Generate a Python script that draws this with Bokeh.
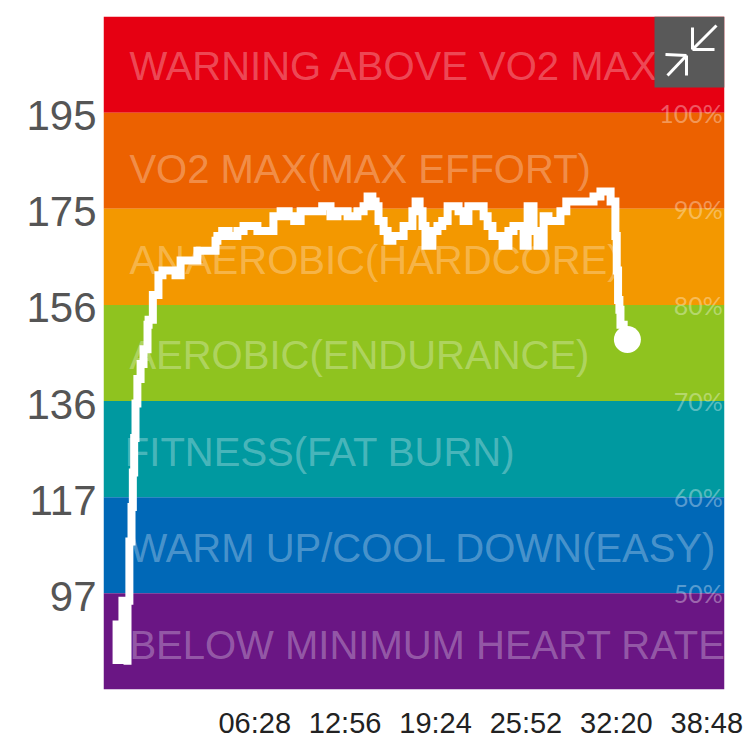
from bokeh.plotting import figure
from bokeh.models import Range1d, LinearAxis, FixedTicker
from bokeh.core.properties import value
from bokeh.embed import file_html
from bokeh.resources import INLINE

zone_edges = [214.5, 195, 175.5, 156, 136.5, 117, 97.5, 78]
zone_colors = ["#E60012", "#EC6100", "#F39800", "#8FC31F", "#0099A0", "#0068B7", "#6A1684"]
zone_names = ["WARNING ABOVE VO2 MAX", "VO2 MAX(MAX EFFORT)", "ANAEROBIC(HARDCORE)", "AEROBIC(ENDURANCE)",
              "FITNESS(FAT BURN)", "WARM UP/COOL DOWN(EASY)", "BELOW MINIMUM HEART RATE"]
zone_label_hr = [204.4, 183.6, 165.2, 145.8, 126.2, 106.8, 87.0]
zone_label_t = [97, 97, 97, 97, 80, 97, 97]
pct_labels = ["100%", "90%", "80%", "70%", "60%", "50%"]
pct_hr = [195, 175.5, 156, 136.5, 117, 97.5]
pct_t = 2322

y_ticks = [195, 175.5, 156, 136.5, 117, 97.5]
y_tick_labels = ["195", "175", "156", "136", "117", "97"]
x_ticks = [388, 776, 1164, 1552, 1940, 2328]
x_tick_labels = ["06:28", "12:56", "19:24", "25:52", "32:20", "38:48"]

t = [49, 49, 71, 71, 90, 90, 97, 105, 110, 115, 120, 127, 139, 150, 165, 169, 185, 206, 221, 235, 251, 270, 289, 307, 352, 375, 420, 427,
     445, 469, 502, 525, 550, 577, 610, 637, 664, 694, 715, 739, 769, 787, 820, 851, 877, 915, 952, 975, 990, 1008, 1020, 1031, 1050, 1065, 1083, 1125, 1158,
     1170, 1185, 1196, 1207, 1233, 1252, 1270, 1290, 1331, 1350, 1368, 1425, 1440, 1458, 1496, 1518, 1537, 1575, 1590, 1612, 1627, 1650,
     1668, 1713, 1735, 1751, 1800, 1837, 1863, 1901, 1919, 1924, 1929, 1934, 1938, 1950, 1964]
hr = [84, 92, 84, 96, 96, 83, 96, 108, 115, 122, 129, 136, 141, 144, 147, 152, 153, 158, 162, 163, 163, 163, 162, 165, 165, 167, 167, 169,
      170, 171, 170, 171, 172, 172, 171, 171, 174, 175, 174, 173, 175, 175, 175, 176, 174, 175, 174, 175, 176, 178, 177, 176, 173, 171, 169, 170, 172,
      175, 177, 175, 172, 168, 171, 172, 173, 176, 175, 173, 176, 174, 172, 170, 168, 171, 172, 168, 176, 171, 168,
      174, 173, 175, 177, 177, 177, 178, 179, 177, 170, 163, 157, 155, 152, 149]

FRAME_W = 621.0
FRAME_H = 673.0

def tx(px):
    return (px - 103) / FRAME_W * 2328

def ty(px):
    return 214.5 - (px - 16) / FRAME_H * 136.5

p = figure(width=744, height=745, output_backend="svg", toolbar_location=None,
           x_range=Range1d(0, 2328), y_range=Range1d(78, 214.5),
           min_border_left=103, min_border_right=20, min_border_top=16, min_border_bottom=56,
           outline_line_color=None, background_fill_color="white", x_axis_location=None, y_axis_location=None)
p.grid.visible = False

p.quad(left=0, right=2328, top=zone_edges[:-1], bottom=zone_edges[1:], fill_color=zone_colors, line_color=None)

p.text(x=zone_label_t, y=zone_label_hr, text=zone_names, text_font=value("Liberation Sans"), text_font_size="40px",
       text_color="white", text_alpha=0.3, text_baseline="middle", text_align="left")
p.text(x=[pct_t] * len(pct_labels), y=pct_hr, text=pct_labels, text_font=value("Lato"), text_font_size="25px",
       text_color="white", text_alpha=0.35, text_baseline="middle", text_align="right")

p.step(t, hr, mode="before", line_color="white", line_width=8, line_join="miter")
p.scatter(t[-1:], hr[-1:], size=27, fill_color="white", line_color=None)

p.extra_y_ranges["labels"] = Range1d(78.6, 215.1)
yaxis = LinearAxis(y_range_name="labels", ticker=FixedTicker(ticks=y_ticks),
                   major_label_overrides={a: b for a, b in zip(y_ticks, y_tick_labels)},
                   axis_line_color=None, major_tick_line_color=None,
                   minor_tick_line_color=None, major_label_text_font="Liberation Sans",
                   major_label_text_font_size="42px", major_label_text_color="#555555", major_label_standoff=1)
p.add_layout(yaxis, "left")

# tick labels sit on their own scale: they do not line up with the data scale in the original
p.extra_x_ranges["labels"] = Range1d(-261, 2404)
xaxis = LinearAxis(x_range_name="labels", ticker=FixedTicker(ticks=x_ticks),
                   major_label_overrides={a: b for a, b in zip(x_ticks, x_tick_labels)},
                   axis_line_color=None, major_tick_line_color=None, minor_tick_line_color=None,
                   major_label_text_font="Liberation Sans", major_label_text_font_size="29px",
                   major_label_text_color="#222222", major_label_standoff=11)
p.add_layout(xaxis, "below")

# collapse button in the top right corner
p.quad(left=[tx(654)], right=[tx(724)], top=[ty(16)], bottom=[ty(87)], fill_color="#595959", line_color=None)
icon_segments = [(716, 25, 692, 49), (692, 49, 692, 27), (692, 49, 714, 49),
                 (667, 75, 686, 55), (686, 55, 665, 54), (686, 55, 686, 75)]
p.segment(x0=[tx(s[0]) for s in icon_segments], y0=[ty(s[1]) for s in icon_segments],
          x1=[tx(s[2]) for s in icon_segments], y1=[ty(s[3]) for s in icon_segments],
          line_color="white", line_width=3)

open("out.html", "w").write(file_html(p, INLINE))
